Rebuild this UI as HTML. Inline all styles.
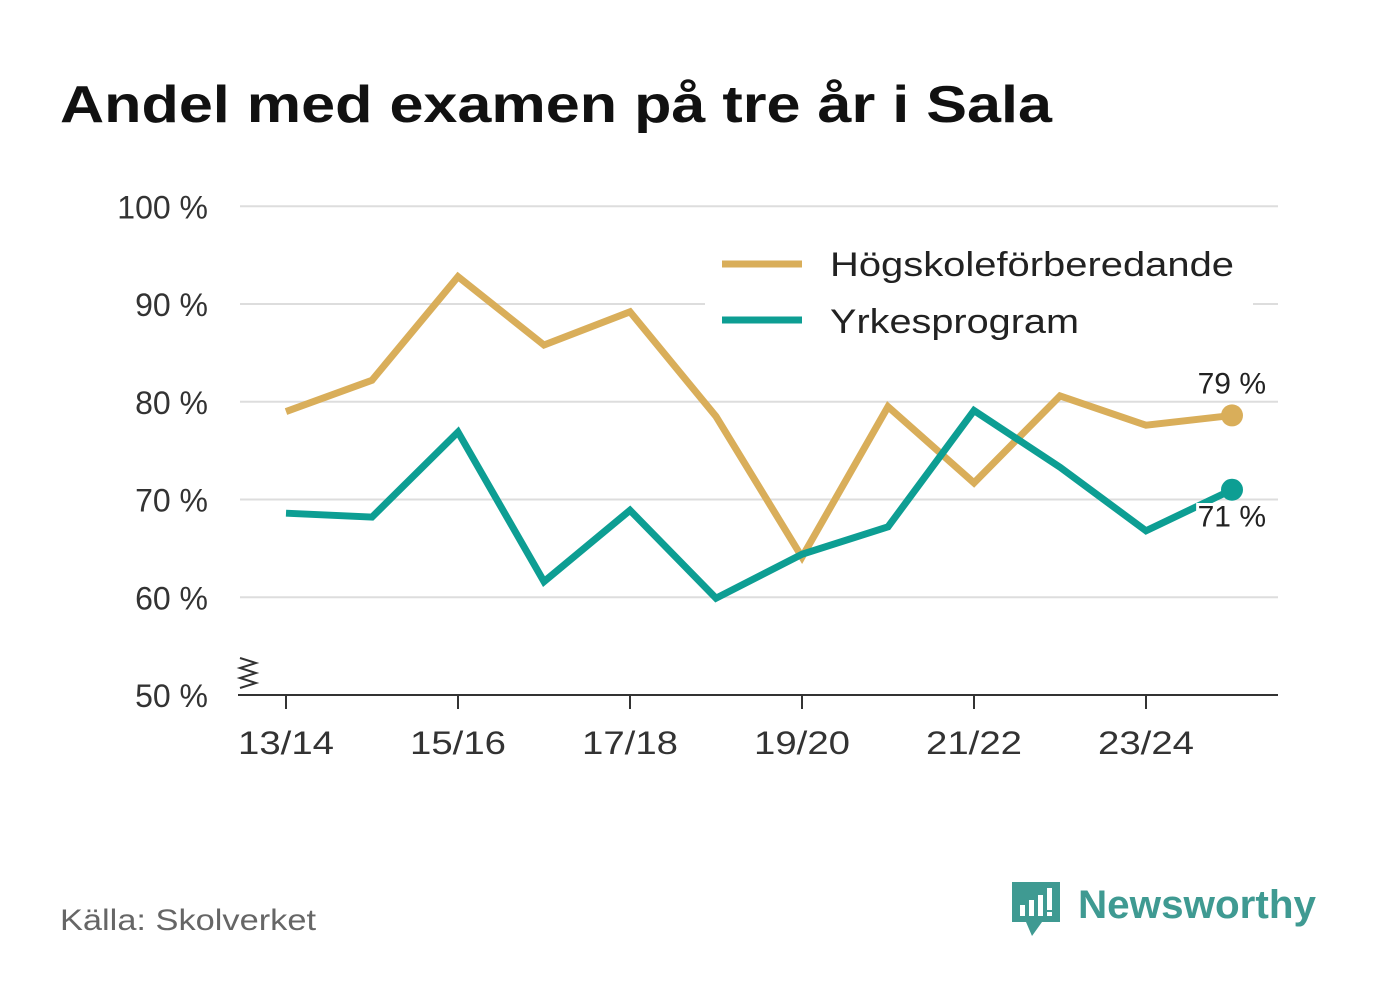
<!DOCTYPE html>
<html><head><meta charset="utf-8"><style>
body{margin:0;background:#fff;width:1382px;height:999px;overflow:hidden;font-family:"Liberation Sans",sans-serif}
</style></head><body>
<svg id="c" width="1382" height="999">
<text x="60" y="122" font-size="52" font-weight="bold" fill="#111" textLength="992" lengthAdjust="spacingAndGlyphs">Andel med examen på tre år i Sala</text>
<g id="grid"></g><g id="lines"></g>
<g>
<rect x="705" y="232" width="548" height="120" fill="#fff"/>
<line x1="722" y1="264" x2="802" y2="264" stroke="#d9ae5a" stroke-width="7"/>
<text x="830" y="276" font-size="34" fill="#222" textLength="404" lengthAdjust="spacingAndGlyphs">Högskoleförberedande</text>
<line x1="722" y1="320" x2="802" y2="320" stroke="#0d9e93" stroke-width="7"/>
<text x="830" y="333" font-size="34" fill="#222" textLength="249" lengthAdjust="spacingAndGlyphs">Yrkesprogram</text>
</g>
<text x="60" y="930" font-size="30" fill="#666" textLength="256" lengthAdjust="spacingAndGlyphs">Källa: Skolverket</text>
<g>
<path d="M1012 882h48v40h-18l-10 14-6-14h-14z" fill="#3f9a92"/>
<rect x="1020" y="905" width="5" height="11" fill="#fff"/><rect x="1029" y="900" width="5" height="16" fill="#fff"/><rect x="1038" y="895" width="5" height="21" fill="#fff"/><rect x="1047" y="888" width="5" height="22" fill="#fff"/><rect x="1047" y="912" width="5" height="4" fill="#fff"/>
<text x="1078" y="918" font-size="40" font-weight="bold" fill="#3f9a92" textLength="238" lengthAdjust="spacingAndGlyphs">Newsworthy</text>
</g>
</svg>
<script>
const categories=["13/14","14/15","15/16","16/17","17/18","18/19","19/20","20/21","21/22","22/23","23/24","24/25"];
const hogskole=[79.0,82.2,92.8,85.8,89.2,78.5,64.1,79.5,71.7,80.6,77.6,78.6];
const yrkes=[68.6,68.2,76.9,61.6,68.9,59.9,64.4,67.2,79.1,73.3,66.8,71.0];
const yTicks=[50,60,70,80,90,100];
const xTickLabels=["13/14","15/16","17/18","19/20","21/22","23/24"];
const NS="http://www.w3.org/2000/svg";
const x=i=>286+i*86, y=v=>695-(v-50)*9.775;
function mk(t,a,p){const e=document.createElementNS(NS,t);for(const k in a)e.setAttribute(k,a[k]);p.appendChild(e);return e;}
const g=document.getElementById('grid'),L=document.getElementById('lines');
yTicks.forEach(v=>{
 if(v>50){const l=mk('line',{x1:240,x2:1278,y1:y(v),y2:y(v),stroke:'#ddd','stroke-width':2},g);
 
 }
 const t=mk('text',{x:208,y:y(v)+12,'font-size':32,fill:'#333','text-anchor':'end'},g);t.textContent=v+' %';
 
 
});
const ax=mk('line',{x1:238,x2:1278,y1:695,y2:695,stroke:'#333','stroke-width':2},g);


const br=mk('path',{d:'M240 688 l16-5 -16-5 16-5 -16-5 16-5 -16-5',fill:'none',stroke:'#333','stroke-width':2},g);


categories.forEach((c,i)=>{
 const k=xTickLabels.indexOf(c);
 if(k>=0){
 mk('line',{x1:x(i),x2:x(i),y1:695,y2:709,stroke:'#333','stroke-width':2},g);
 const t=mk('text',{x:x(i),y:754,'font-size':32,fill:'#333','text-anchor':'middle',textLength:96,lengthAdjust:'spacingAndGlyphs'},g);t.textContent=c;
 
 }
});
function series(d,col,name,lblDy){
 const p=mk('polyline',{points:d.map((v,i)=>x(i)+','+y(v)).join(' '),fill:'none',stroke:col,'stroke-width':7,'stroke-linejoin':'miter'},L);
 
 
 const n=d.length-1;
 const c=mk('circle',{cx:x(n),cy:y(d[n]),r:11,fill:col},L);
 
 
 const t=mk('text',{x:x(n)+34,y:y(d[n])+lblDy,'font-size':30,fill:'#222','text-anchor':'end',stroke:'#fff','stroke-width':6,'paint-order':'stroke'},L);
 t.textContent=Math.round(d[n])+' %';
 
 
}
series(hogskole,'#d9ae5a','hogskole',-22);
series(yrkes,'#0d9e93','yrkes',37);
</script>
</body></html>
